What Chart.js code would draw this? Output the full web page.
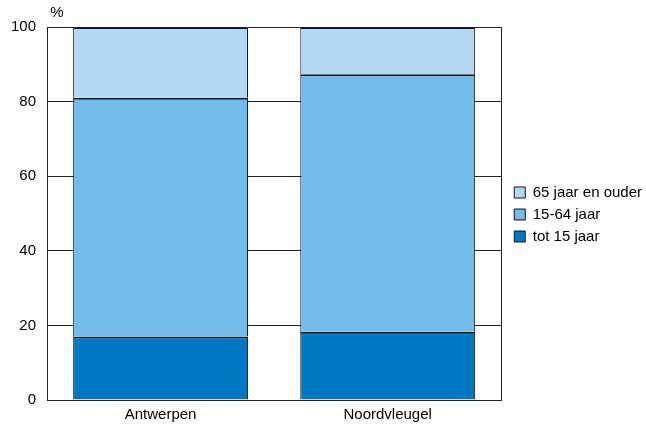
<!DOCTYPE html>
<html>
<head>
<meta charset="utf-8">
<script src="https://cdn.jsdelivr.net/npm/chart.js@4/dist/chart.umd.min.js"></script>
<style>
  html, body { margin: 0; padding: 0; background: #fff; }
  #wrap { width: 646px; height: 428px; }
</style>
</head>
<body>
<div id="wrap"><canvas id="chart"></canvas></div>
<script>
// data
const categories = ["Antwerpen", "Noordvleugel"];
const tot15 = [17.0, 18.3];
const jaar15_64 = [64.0, 69.0];
const ouder65 = [19.0, 12.7];
const yTicks = [0, 20, 40, 60, 80, 100];

const FONT = "'Liberation Sans', Arial, sans-serif";

// kader rond plotgebied + "%" label, legende wat verschuiven
const frame = {
  id: "frame",
  afterLayout(chart) {
    const lg = chart.legend;
    lg.left += 6; lg.right += 6;
    lg.top -= 14; lg.bottom -= 14;
  },
  afterDraw(chart) {
    const { ctx, chartArea: a } = chart;
    ctx.save();
    ctx.strokeStyle = "#222";
    ctx.lineWidth = 1;
    ctx.strokeRect(Math.round(a.left) + 0.5, Math.round(a.top) + 0.5,
      Math.round(a.right - a.left), Math.round(a.bottom - a.top));
    ctx.fillStyle = "#000";
    ctx.font = "15px " + FONT;
    ctx.textAlign = "center";
    ctx.textBaseline = "bottom";
    ctx.fillText("%", a.left + 10, a.top - 7);
    ctx.restore();
  }
};

new Chart(document.getElementById("chart"), {
  type: "bar",
  data: {
    labels: categories,
    datasets: [
      { label: "tot 15 jaar", data: tot15, backgroundColor: "#0077c2" },
      { label: "15-64 jaar", data: jaar15_64, backgroundColor: "#71bcec" },
      { label: "65 jaar en ouder", data: ouder65, backgroundColor: "#b3d8f4" }
    ].map(d => Object.assign(d, {
      borderColor: "#151515",
      borderWidth: { top: 2, left: 1, right: 1, bottom: 0 },
      borderSkipped: false,
      categoryPercentage: 0.77, barPercentage: 1
    }))
  },
  options: {
    responsive: true,
    maintainAspectRatio: false,
    animation: false,
    layout: { padding: { top: 27, right: 0, bottom: -2, left: 0 } },
    plugins: {
      tooltip: { enabled: false },
      legend: {
        position: "right",
        reverse: true,
        labels: {
          boxWidth: 11, boxHeight: 11, padding: 7, color: "#000",
          font: { family: FONT, size: 15 },
          generateLabels: ch => Chart.defaults.plugins.legend.labels.generateLabels(ch)
            .map(l => Object.assign(l, { lineWidth: 1 }))
        }
      }
    },
    scales: {
      x: {
        stacked: true,
        grid: { display: false, drawTicks: false },
        border: { color: "#222" },
        ticks: { color: "#000", padding: 6, font: { family: FONT, size: 15 } }
      },
      y: {
        stacked: true,
        min: 0, max: 100,
        afterBuildTicks: s => { s.ticks = yTicks.map(v => ({ value: v })); },
        grid: { color: "#222", drawTicks: false },
        border: { color: "#222" },
        ticks: { color: "#000", padding: 11, font: { family: FONT, size: 15 } }
      }
    }
  },
  plugins: [frame]
});
</script>
</body>
</html>
